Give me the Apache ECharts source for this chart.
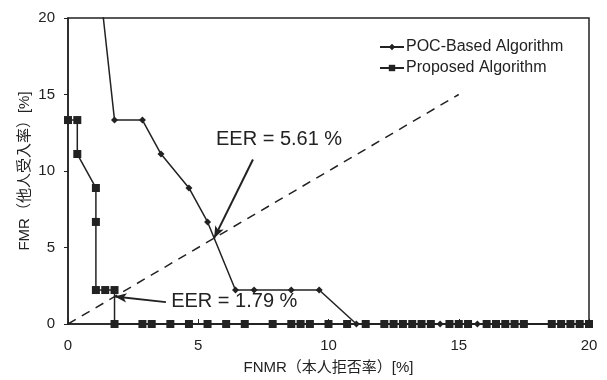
<!DOCTYPE html>
<html>
<head>
<meta charset="utf-8">
<script src="https://cdn.jsdelivr.net/npm/echarts@6/dist/echarts.min.js"></script>
<style>
  html, body { margin: 0; padding: 0; background: #fff; }
  #chart { width: 607px; height: 380px; }
</style>
</head>
<body>
<div id="chart"></div>
<script>
// FNMR / FMR curves, values in percent
const pocFNMR = [1.071, 1.786, 2.857, 3.571, 4.643, 5.357, 6.429, 7.143, 8.571, 9.643, 11.071, 14.286, 15.714, 20.0];
const pocFMR  = [24.44, 13.33, 13.33, 11.11, 8.89, 6.67, 2.22, 2.22, 2.22, 2.22, 0, 0, 0, 0];

const propFNMR = [0, 0.357, 0.357, 1.071, 1.071, 1.071, 1.429, 1.786, 1.786,
  2.857, 3.214, 3.929, 4.643, 5.357, 6.071, 6.786, 7.857, 8.571, 8.929, 9.286,
  10.0, 10.714, 11.429, 12.143, 12.5, 12.857, 13.214, 13.571, 13.929, 14.643,
  15.0, 15.357, 16.071, 16.429, 16.786, 17.143, 17.5, 18.571, 18.929, 19.286, 19.643, 20.0];
const propFMR = [13.33, 13.33, 11.11, 8.89, 6.67, 2.22, 2.22, 2.22, 0,
  0, 0, 0, 0, 0, 0, 0, 0, 0, 0, 0,
  0, 0, 0, 0, 0, 0, 0, 0, 0, 0,
  0, 0, 0, 0, 0, 0, 0, 0, 0, 0, 0, 0];

const eerLine = [[0, 0], [15, 15]];

// EER annotations: value, arrow tail, text anchor (left, middle)
const eerPOC  = { value: 5.61, tail: [7.10, 10.75], text: [5.68, 12.05], label: 'EER = 5.61 %' };
const eerProp = { value: 1.79, tail: [3.76, 1.43], text: [3.96, 1.47], label: 'EER = 1.79 %' };

const xTicks = [0, 5, 10, 15, 20];
const yTicks = [0, 5, 10, 15, 20];

const MIXED = '"Liberation Sans", "Noto Sans CJK JP", sans-serif';
const LATIN = 'Liberation Sans';
const INK = '#222';

const zip = (xs, ys) => xs.map((x, i) => [x, ys[i]]);

const chart = echarts.init(document.getElementById('chart'), null, { renderer: 'canvas' });

function arrowLine(e) {
  return {
    silent: true,
    symbol: ['none', 'arrow'],
    symbolSize: [7, 12],
    label: { show: false },
    lineStyle: { color: INK, width: 2, type: 'solid' },
    data: [[{ coord: e.tail }, { coord: [e.value, e.value] }]]
  };
}

chart.setOption({
  animation: false,
  textStyle: { fontFamily: LATIN },
  grid: { left: 68, right: 18, top: 18, bottom: 55, show: true, borderColor: INK, borderWidth: 1.5 },
  legend: {
    left: 374, top: 34,
    orient: 'vertical',
    itemWidth: 24, itemHeight: 8, itemGap: 5,
    textStyle: { fontFamily: LATIN, fontSize: 16, color: INK, padding: [0, 0, 0, -3] },
    data: ['POC-Based Algorithm', 'Proposed Algorithm']
  },
  xAxis: {
    type: 'value', min: 0, max: 20, interval: 5,
    name: 'FNMR（本人拒否率）[%]', nameLocation: 'middle', nameGap: 36,
    nameMoveOverlap: false,
    nameTextStyle: { fontFamily: MIXED, fontSize: 15, color: INK },
    axisLine: { lineStyle: { color: INK, width: 1.5 } },
    axisTick: { inside: true, length: 5, lineStyle: { color: INK } },
    axisLabel: { fontFamily: LATIN, fontSize: 15, color: INK, margin: 14,
      formatter: v => xTicks.includes(v) ? String(v) : '' },
    splitLine: { show: false }
  },
  yAxis: {
    type: 'value', min: 0, max: 20, interval: 5,
    name: 'FMR（他人受入率）[%]', nameLocation: 'middle', nameGap: 36, nameRotate: 90,
    nameMoveOverlap: false,
    nameTextStyle: { fontFamily: MIXED, fontSize: 15, color: INK },
    axisLine: { lineStyle: { color: INK, width: 1.5 } },
    axisTick: { inside: false, length: 4, lineStyle: { color: INK } },
    axisLabel: { fontFamily: LATIN, fontSize: 15, color: INK, margin: 13,
      formatter: v => yTicks.includes(v) ? String(v) : '' },
    splitLine: { show: false }
  },
  series: [
    {
      name: 'EER', type: 'line', data: eerLine, symbol: 'none', silent: true,
      lineStyle: { color: INK, width: 1.5, type: [9, 7] },
      z: 1
    },
    {
      name: 'POC-Based Algorithm', type: 'line', data: zip(pocFNMR, pocFMR),
      symbol: 'diamond', symbolSize: 7, clip: true,
      itemStyle: { color: INK }, lineStyle: { color: INK, width: 1.5 },
      markLine: arrowLine(eerPOC),
      z: 3
    },
    {
      name: 'Proposed Algorithm', type: 'line', data: zip(propFNMR, propFMR),
      symbol: 'rect', symbolSize: 8, clip: false,
      itemStyle: { color: INK }, lineStyle: { color: INK, width: 1.5 },
      markLine: arrowLine(eerProp),
      z: 4
    }
  ]
});

// Annotation texts placed in data coordinates
const labels = [eerPOC, eerProp].map(e => {
  const p = chart.convertToPixel({ gridIndex: 0 }, e.text);
  return {
    type: 'text', x: p[0], y: p[1],
    style: {
      text: e.label, fontFamily: LATIN, fontSize: 20, fill: INK,
      align: 'left', verticalAlign: 'middle'
    }
  };
});
chart.setOption({ graphic: labels });
</script>
</body>
</html>
